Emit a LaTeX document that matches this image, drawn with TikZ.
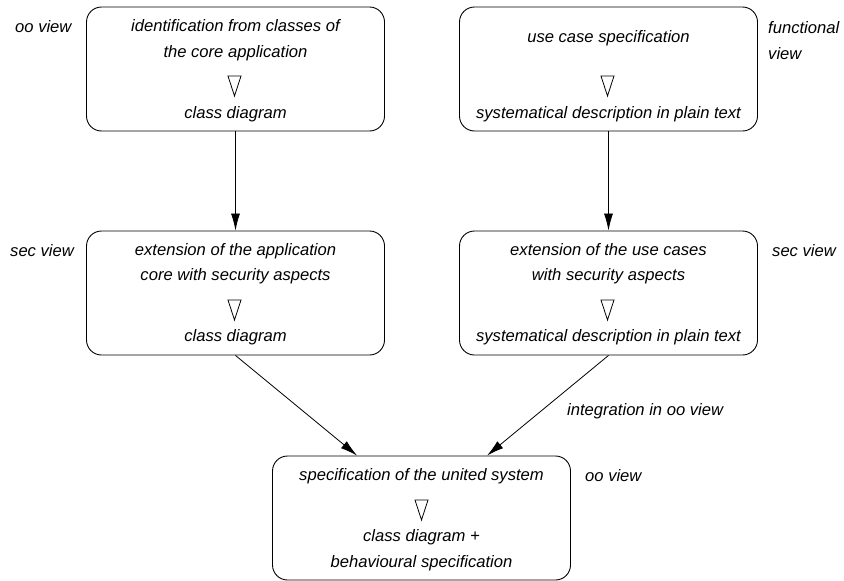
\documentclass[tikz,border=0pt]{standalone}
\usepackage{fontspec}
\setmainfont{Liberation Sans}
\usetikzlibrary{arrows.meta}
\begin{document}
\begin{tikzpicture}[x=1pt,y=-1pt,
  box/.style={draw, rounded corners=15pt, minimum width=298pt, minimum height=124pt, inner sep=0pt, line width=0.9pt},
  txt/.style={inner sep=0pt, align=center, font=\fontsize{16.6}{25.5}\selectfont\itshape},
  lbl/.style={inner sep=0pt, align=left, anchor=west, font=\fontsize{16.6}{25.5}\selectfont\itshape},
  arr/.style={-{Latex[length=17pt,width=9pt]}, line width=0.8pt},
  tri/.pic={\draw[line width=0.8pt] (-6.5,-10) -- (6.5,-10) -- (0,10) -- cycle;}]
\useasboundingbox (0,0) rectangle (844,581);

% boxes
\node[box] (b1) at (235.5,69) {};
\node[box] (b2) at (608.5,69) {};
\node[box] (b3) at (235.5,293) {};
\node[box] (b4) at (608.5,293) {};
\node[box] (b5) at (421.5,518) {};

% box 1
\node[txt] (t1a) at (235.5,40) {identification from classes of\\the core application};
\pic at (234.5,86) {tri};
\node[txt] (t1b) at (235.5,114) {class diagram};

% box 2
\node[txt] (t2a) at (608.5,38) {use case specification};
\pic at (607.5,86) {tri};
\node[txt] (t2b) at (608.5,114) {systematical description in plain text};

% box 3
\node[txt] (t3a) at (235.5,263.5) {extension of the application\\core with security aspects};
\pic at (234.5,310) {tri};
\node[txt] (t3b) at (235.5,337) {class diagram};

% box 4
\node[txt] (t4a) at (608.5,263.5) {extension of the use cases\\with security aspects};
\pic at (607.5,310) {tri};
\node[txt] (t4b) at (608.5,337) {systematical description in plain text};

% box 5
\node[txt] (t5a) at (421.5,476) {specification of the united system};
\pic at (421.5,510) {tri};
\node[txt] (t5b) at (421.5,550) {class diagram +\\behavioural specification};

% side labels
\node[lbl] (l1) at (15,27) {oo view};
\node[lbl] (l2) at (768,40.5) {functional\\view};
\node[lbl] (l3) at (10,251) {sec view};
\node[lbl] (l4) at (772,251) {sec view};
\node[lbl] (l5) at (567,411) {integration in oo view};
\node[lbl] (l6) at (585,476) {oo view};

% connectors
\coordinate (e5a) at ([xshift=85pt]b5.north west);
\coordinate (e5b) at ([xshift=215pt]b5.north west);
\draw[arr] (b1.south) -- (b3.north);
\draw[arr] (b2.south) -- (b4.north);
\draw[arr] (b3.south) -- (e5a);
\draw[arr] (b4.south) -- (e5b);
\end{tikzpicture}
\end{document}
